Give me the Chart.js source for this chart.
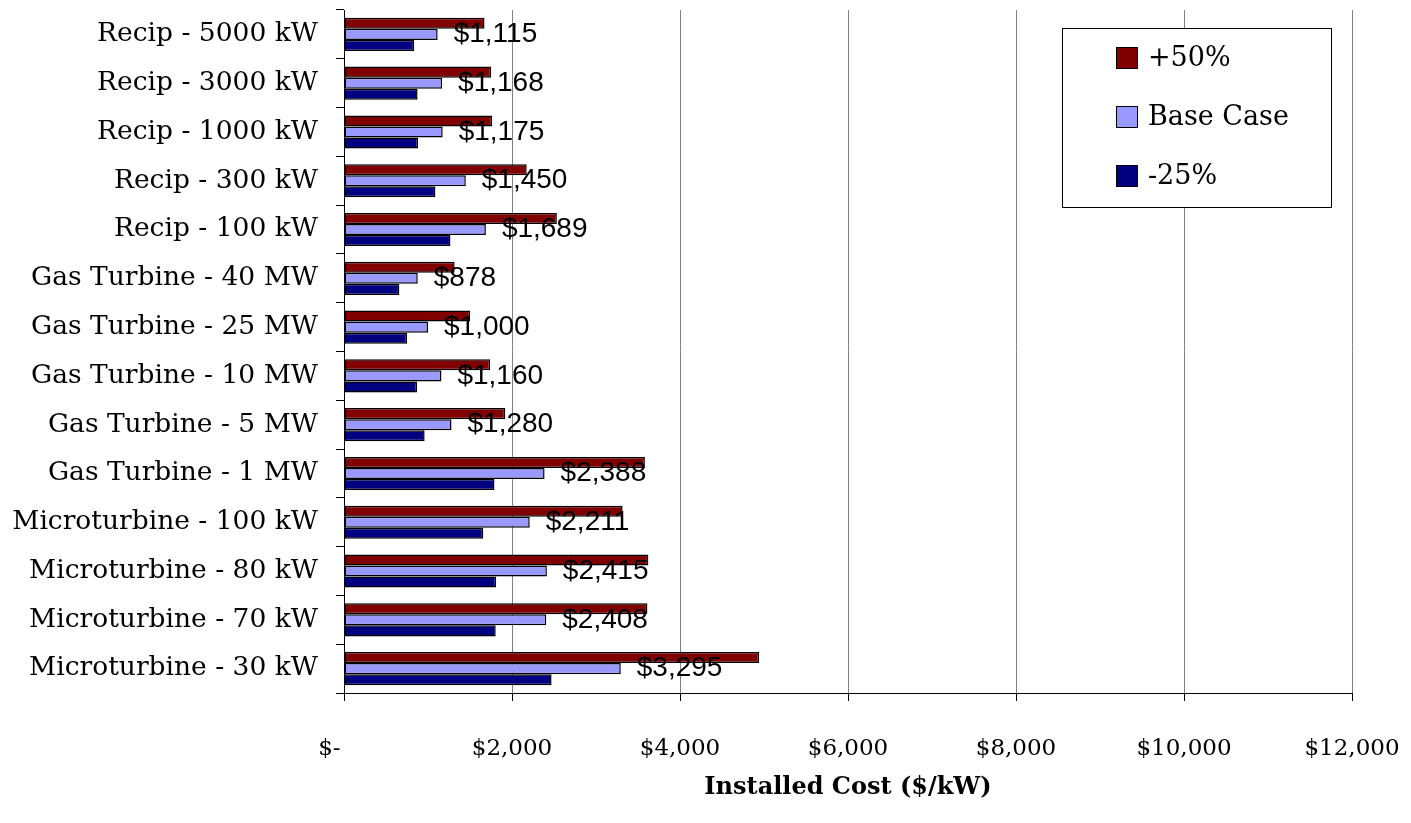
<!DOCTYPE html>
<html>
<head>
<meta charset="utf-8">
<script src="https://cdn.jsdelivr.net/npm/chart.js@4.4.1/dist/chart.umd.min.js"></script>
<style>
  html, body { margin: 0; padding: 0; background: #ffffff; }
  #wrap { width: 1411px; height: 823px; }
</style>
</head>
<body>
<div id="wrap"><canvas id="costChart" width="1411" height="823"></canvas></div>
<script>
const categories = [
  'Recip - 5000 kW', 'Recip - 3000 kW', 'Recip - 1000 kW', 'Recip - 300 kW', 'Recip - 100 kW',
  'Gas Turbine - 40 MW', 'Gas Turbine - 25 MW', 'Gas Turbine - 10 MW', 'Gas Turbine - 5 MW', 'Gas Turbine - 1 MW',
  'Microturbine - 100 kW', 'Microturbine - 80 kW', 'Microturbine - 70 kW', 'Microturbine - 30 kW'
];
const plus50 = [1673, 1752, 1763, 2175, 2534, 1317, 1500, 1740, 1920, 3582, 3317, 3623, 3612, 4943];
const baseCase = [1115, 1168, 1175, 1450, 1689, 878, 1000, 1160, 1280, 2388, 2211, 2415, 2408, 3295];
const minus25 = [836, 876, 881, 1088, 1267, 659, 750, 870, 960, 1791, 1658, 1811, 1806, 2471];
const xTicks = [0, 2000, 4000, 6000, 8000, 10000, 12000];

const serif = "'DejaVu Serif', serif";
const sans = "'Liberation Sans', Arial, sans-serif";

function money(v) {
  if (v === 0) return '$-';
  return '$' + v.toLocaleString('en-US');
}

// value labels next to the Base Case bars
const baseLabels = {
  id: 'baseLabels',
  afterDatasetsDraw(chart) {
    const meta = chart.getDatasetMeta(1);
    const ctx = chart.ctx;
    ctx.save();
    ctx.font = '28px ' + sans;
    ctx.fillStyle = '#000';
    ctx.textAlign = 'left';
    ctx.textBaseline = 'middle';
    meta.data.forEach(function(bar, i) {
      ctx.fillText(money(baseCase[i]), bar.x + 16, bar.y);
    });
    ctx.restore();
  }
};

// boxed legend inside the plot
const boxLegend = {
  id: 'boxLegend',
  afterDraw(chart) {
    const ctx = chart.ctx;
    const items = chart.data.datasets;
    ctx.save();
    ctx.fillStyle = '#fff';
    ctx.fillRect(1062, 28, 269, 179);
    ctx.strokeStyle = '#000';
    ctx.lineWidth = 1;
    ctx.strokeRect(1062.5, 28.5, 269, 179);
    ctx.font = '27px ' + serif;
    ctx.textBaseline = 'middle';
    items.forEach(function(ds, i) {
      const y = 58 + i * 59;
      ctx.fillStyle = ds.backgroundColor;
      ctx.fillRect(1116, y - 11, 22, 22);
      ctx.strokeRect(1116.5, y - 10.5, 21, 21);
      ctx.fillStyle = '#000';
      ctx.fillText(ds.label, 1148, y + 1);
    });
    ctx.restore();
  }
};

const config = {
  type: 'bar',
  data: {
    labels: categories,
    datasets: [
      { label: '+50%', data: plus50, backgroundColor: '#800000' },
      { label: 'Base Case', data: baseCase, backgroundColor: '#9999FF' },
      { label: '-25%', data: minus25, backgroundColor: '#000080' }
    ]
  },
  options: {
    indexAxis: 'y',
    responsive: false,
    animation: false,
    layout: { padding: { top: 10, right: 59, left: 0, bottom: 17 } },
    datasets: {
      bar: {
        borderColor: '#000',
        borderWidth: 1.5,
        borderSkipped: false,
        categoryPercentage: 0.68,
        barPercentage: 1.0
      }
    },
    scales: {
      x: {
        min: 0,
        max: 12000,
        afterBuildTicks: function(s) { s.ticks = xTicks.map(function(v) { return { value: v }; }); },
        afterFit: function(s) {
          s.height = 113;
          s.paddingLeft = 0;
          s.paddingRight = 0;
        },
        border: { color: '#000', width: 1 },
        grid: {
          color: '#808080',
          lineWidth: 1,
          tickColor: '#000',
          tickLength: 8
        },
        ticks: {
          color: '#000',
          padding: 34,
          maxRotation: 0,
          font: { family: serif, size: 23 },
          callback: function(v) { return v === 0 ? '$-\u00a0\u00a0\u00a0\u00a0' : money(v); }
        },
        title: {
          display: true,
          text: 'Installed Cost ($/kW)',
          color: '#000',
          padding: { top: 10 },
          font: { family: serif, size: 24, weight: 'bold' }
        }
      },
      y: {
        afterFit: function(s) {
          s.width = 344;
          s.paddingTop = 0;
          s.paddingBottom = 0;
        },
        border: { color: '#000', width: 1 },
        grid: {
          offset: true,
          drawOnChartArea: false,
          tickColor: '#000',
          tickLength: 8
        },
        ticks: {
          color: '#000',
          padding: 18,
          autoSkip: false,
          font: { family: serif, size: 26.5 }
        }
      }
    },
    plugins: {
      legend: { display: false },
      tooltip: { enabled: false }
    }
  },
  plugins: [baseLabels, boxLegend]
};

new Chart(document.getElementById('costChart').getContext('2d'), config);
</script>
</body>
</html>
